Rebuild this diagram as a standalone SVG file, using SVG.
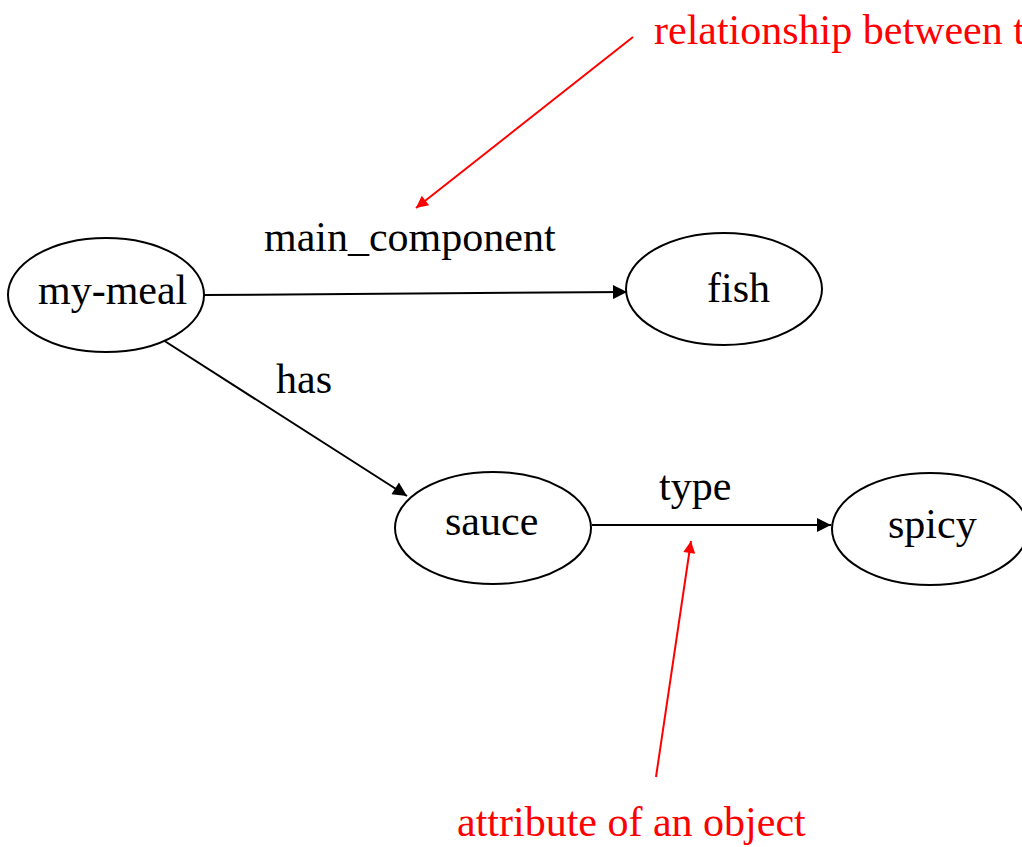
<svg xmlns="http://www.w3.org/2000/svg" width="1022" height="847" viewBox="0 0 1022 847">
  <style>
    .node ellipse { fill: #ffffff; stroke: #000000; stroke-width: 2; }
    .lbl { font-family: "Liberation Serif", "Times New Roman", serif; font-size: 42px; fill: #000000; }
    .note { font-family: "Liberation Serif", "Times New Roman", serif; font-size: 42px; fill: #ff0000; }
    .edge { stroke: #000000; stroke-width: 2; fill: none; marker-end: url(#arrowBlack); }
    .pointer { stroke: #ff0000; stroke-width: 2; fill: none; marker-end: url(#arrowRed); }
  </style>
  <defs>
    <marker id="arrowBlack" viewBox="0 0 10 10" refX="10" refY="5" markerWidth="8" markerHeight="7" markerUnits="strokeWidth" orient="auto">
      <path d="M0,0 L10,5 L0,10 Z" fill="#000000"/>
    </marker>
    <marker id="arrowRed" viewBox="0 0 10 10" refX="10" refY="5" markerWidth="8" markerHeight="6" markerUnits="strokeWidth" orient="auto">
      <path d="M0,0 L10,5 L0,10 Z" fill="#ff0000"/>
    </marker>
  </defs>
  <rect width="1022" height="847" fill="#ffffff"/>

  <!-- connectors -->
  <g id="connectors">
    <line class="edge" x1="204" y1="295" x2="627" y2="292"/>
    <line class="edge" x1="163" y1="340" x2="407" y2="496"/>
    <line class="edge" x1="592" y1="525" x2="831" y2="525"/>
    <text class="lbl" x="264" y="251">main_component</text>
    <text class="lbl" x="276" y="393">has</text>
    <text class="lbl" x="659" y="500">type</text>
  </g>

  <!-- nodes -->
  <g id="node-my-meal" class="node">
    <ellipse cx="106" cy="295" rx="98" ry="57"/>
    <text class="lbl" x="38" y="304">my-meal</text>
  </g>
  <g id="node-fish" class="node">
    <ellipse cx="724" cy="289" rx="98" ry="56"/>
    <text class="lbl" x="707" y="302">fish</text>
  </g>
  <g id="node-sauce" class="node">
    <ellipse cx="493" cy="528" rx="98" ry="56"/>
    <text class="lbl" x="445" y="535">sauce</text>
  </g>
  <g id="node-spicy" class="node">
    <ellipse cx="930" cy="529" rx="98" ry="56"/>
    <text class="lbl" x="888" y="538">spicy</text>
  </g>

  <!-- annotations -->
  <g id="annotations">
    <line class="pointer" x1="633" y1="37" x2="416" y2="208"/>
    <text class="note" x="654" y="44">relationship between t</text>
    <line class="pointer" x1="656" y1="777" x2="691" y2="541"/>
    <text class="note" x="457" y="836">attribute of an object</text>
  </g>
</svg>
